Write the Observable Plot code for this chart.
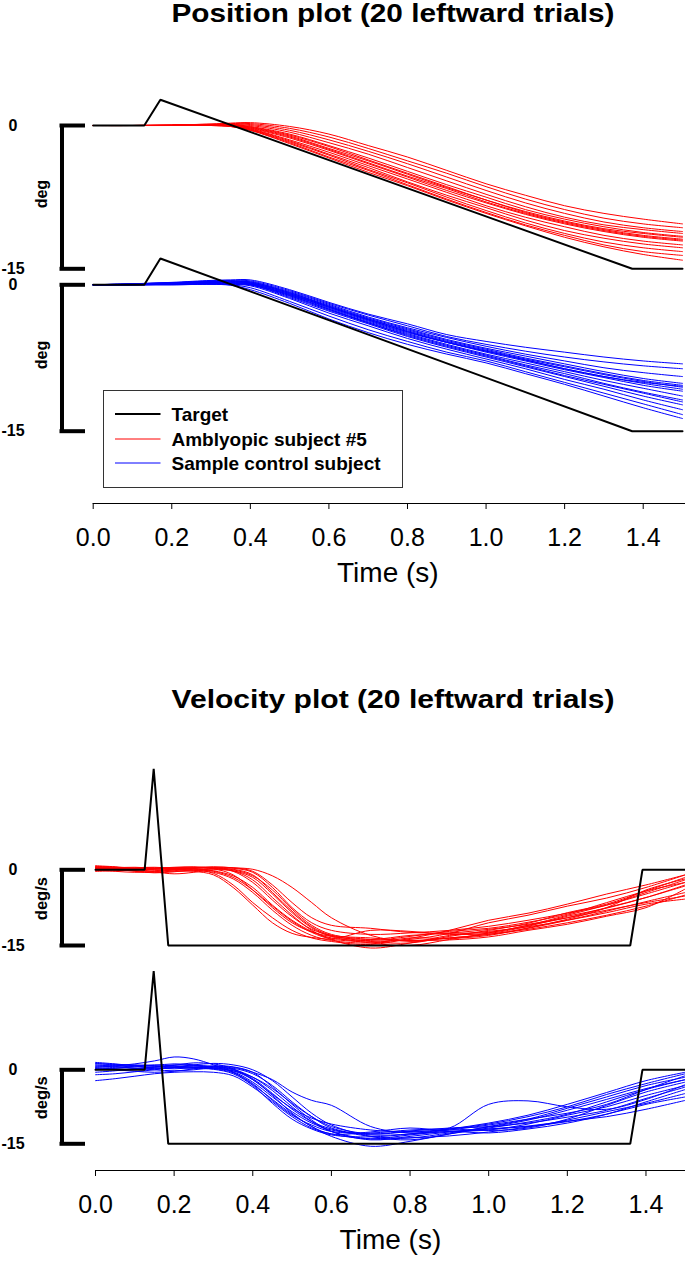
<!DOCTYPE html>
<html>
<head>
<meta charset="utf-8">
<script src="https://cdn.jsdelivr.net/npm/d3@7"></script>
<script src="https://cdn.jsdelivr.net/npm/@observablehq/plot@0.6"></script>
<style>
  body { margin: 0; background: #fff; }
  #page { position: relative; width: 685px; height: 1267px; overflow: hidden; background: #fff;
          font-family: "Liberation Sans", Arial, sans-serif; color: #000; }
  .panel { position: absolute; left: 0; }
  .title { position: absolute; white-space: nowrap; font-weight: bold; font-size: 25px; line-height: 1;
           transform-origin: center; }
  #legend { position: absolute; border: 1px solid #333; box-sizing: border-box; background: #fff; }
  .lrow { position: absolute; left: 0; white-space: nowrap; font-weight: bold; font-size: 19px; line-height: 1; }
</style>
</head>
<body>
<div id="page"></div>
<script>
// ---------------- data ----------------
const titles = ["Position plot (20 leftward trials)", "Velocity plot (20 leftward trials)"];
const yUnits = ["deg", "deg/s"];
const xLabel = "Time (s)";
const xTicks = [0, 0.2, 0.4, 0.6, 0.8, 1.0, 1.2, 1.4];
const yTicks = [0, -15];
const legendLabels = ["Target", "Amblyopic subject #5", "Sample control subject"];
const legendColors = ["black", "red", "blue"];

// target traces
const targetPosT = [0, 0.13, 0.171, 1.372, 1.5];
const targetPosV = [0, 0, 2.7, -15, -15];
const targetVelT = [0, 0.125, 0.148, 0.185, 1.36, 1.391, 1.5];
const targetVelV = [0, 0, 20, -15, -15, 0, 0];

// position traces (deg), sampled at tPos
const tPos = [0, 0.1, 0.2, 0.3, 0.35, 0.4, 0.5, 0.6, 0.7, 0.8, 0.9, 1.0, 1.1, 1.2, 1.3, 1.4, 1.5];
const posAmblyopic = [
  [0, 0, .05, .15, .25, .3, -.1, -.9, -2.1, -3.3, -4.7, -6.1, -7.3, -8.4, -9.2, -9.8, -10.3],
  [0, 0, .05, .15, .2, .2, -.3, -1.2, -2.4, -3.7, -5.0, -6.4, -7.7, -8.8, -9.7, -10.3, -10.7],
  [0, 0, .05, .1, .15, .1, -.5, -1.5, -2.7, -4.0, -5.4, -6.8, -8.1, -9.2, -10.1, -10.7, -11.1],
  [0, 0, .05, .1, .1, 0, -.7, -1.8, -3.0, -4.4, -5.8, -7.2, -8.5, -9.6, -10.4, -10.9, -11.3],
  [0, 0, 0, .1, .1, -.1, -.9, -2.1, -3.4, -4.8, -6.2, -7.5, -8.8, -9.8, -10.6, -11.2, -11.6],
  [0, 0, 0, .05, .05, -.2, -1.1, -2.4, -3.7, -5.1, -6.5, -7.8, -9.1, -10.1, -10.9, -11.5, -11.9],
  [0, 0, 0, .05, 0, -.3, -1.3, -2.6, -4.0, -5.4, -6.8, -8.1, -9.3, -10.3, -11.1, -11.7, -12.1],
  [0, 0, 0, .05, 0, -.35, -1.5, -2.8, -4.2, -5.6, -7.0, -8.4, -9.6, -10.6, -11.5, -12.1, -12.5],
  [0, 0, 0, 0, -.05, -.4, -1.6, -3.0, -4.4, -5.9, -7.3, -8.6, -9.9, -11.0, -11.8, -12.4, -12.8],
  [0, 0, 0, 0, -.1, -.45, -1.7, -3.1, -4.6, -6.0, -7.5, -8.9, -10.2, -11.3, -12.2, -12.8, -13.2],
  [0, 0, 0, 0, -.1, -.5, -1.8, -3.3, -4.7, -6.2, -7.7, -9.1, -10.4, -11.5, -12.5, -13.2, -13.6],
  [0, 0, 0, 0, -.1, -.5, -1.9, -3.4, -4.9, -6.3, -7.8, -9.2, -10.5, -11.7, -12.7, -13.5, -14.1],
  [0, 0, 0, .05, .05, -.15, -1.0, -2.2, -3.6, -5.0, -6.4, -7.8, -9.0, -10.0, -10.8, -11.3, -11.7],
  [0, 0, 0, .05, 0, -.25, -1.2, -2.5, -3.9, -5.3, -6.6, -8.0, -9.2, -10.2, -11.0, -11.6, -12.0]
];
const posControl = [
  [0, .1, .25, .45, .5, .5, -.5, -1.8, -3.0, -4.0, -5.1, -5.8, -6.4, -6.9, -7.4, -7.8, -8.1],
  [0, .05, .2, .4, .45, .4, -.6, -1.9, -3.1, -4.2, -5.3, -6.1, -6.8, -7.4, -7.9, -8.3, -8.6],
  [0, .1, .2, .35, .35, .3, -.7, -2.0, -3.3, -4.4, -5.4, -6.3, -7.1, -7.8, -8.5, -9.0, -9.4],
  [0, .05, .15, .3, .35, .3, -.8, -2.1, -3.4, -4.5, -5.6, -6.5, -7.3, -8.1, -8.9, -9.6, -10.1],
  [0, 0, .1, .25, .25, .2, -.9, -2.2, -3.5, -4.6, -5.7, -6.6, -7.5, -8.3, -9.1, -9.8, -10.3],
  [0, .05, .15, .3, .3, .2, -.8, -2.2, -3.5, -4.7, -5.8, -6.7, -7.6, -8.4, -9.2, -9.9, -10.5],
  [0, 0, .1, .2, .2, .1, -1.0, -2.4, -3.7, -4.9, -5.9, -6.8, -7.7, -8.6, -9.4, -10.1, -10.7],
  [0, .1, .2, .25, .2, .1, -1.0, -2.3, -3.6, -4.8, -5.9, -6.9, -7.8, -8.7, -9.5, -10.3, -10.9],
  [0, 0, .05, .15, .1, 0, -1.1, -2.5, -3.8, -5.0, -6.1, -7.1, -8.0, -8.9, -9.8, -10.6, -11.4],
  [0, .05, .15, .2, .2, .1, -1.1, -2.5, -3.9, -5.1, -6.2, -7.2, -8.2, -9.1, -10.1, -11.0, -11.8],
  [0, 0, .05, .1, .05, 0, -1.3, -2.7, -4.0, -5.3, -6.4, -7.4, -8.4, -9.4, -10.4, -11.4, -12.3],
  [0, 0, .05, .1, .05, -.1, -1.4, -2.9, -4.2, -5.5, -6.6, -7.6, -8.6, -9.7, -10.7, -11.8, -12.8],
  [0, 0, 0, .05, 0, -.3, -1.7, -3.2, -4.6, -5.8, -6.9, -7.8, -8.9, -10.0, -11.1, -12.2, -13.3],
  [0, 0, 0, .05, -.05, -.5, -1.9, -3.5, -4.9, -6.1, -7.1, -8.0, -9.1, -10.2, -11.4, -12.6, -13.7],
  [0, .1, .2, .35, .4, .2, -.9, -2.3, -3.6, -4.8, -5.9, -6.8, -7.7, -8.6, -9.4, -10.0, -10.4],
  [0, 0, .1, .2, .15, 0, -1.2, -2.6, -3.9, -5.2, -6.3, -7.3, -8.3, -9.3, -10.2, -11.1, -12.0]
];

// velocity traces (deg/s), sampled at tVel
const tVel = [0, .05, .1, .15, .2, .25, .3, .35, .4, .45, .5, .55, .6, .7, .8, .9, 1.0, 1.1, 1.2, 1.3, 1.4, 1.5];
const velAmblyopic = [
  [.8, .6, .3, .2, .4, .5, .4, .3, -.5, -3.5, -7.5, -10.5, -12.0, -12.8, -12.5, -12.0, -11.2, -10.0, -8.6, -7.0, -4.5, -2.0],
  [.5, .3, -.2, -.5, -.2, .3, .2, -1.0, -4.0, -7.5, -10.5, -12.3, -13.2, -13.8, -13.0, -12.6, -12.4, -11.0, -9.5, -7.5, -5.5, -3.0],
  [.2, .4, .5, .3, 0, -.3, -1.0, -3.5, -7.0, -10.5, -12.6, -13.4, -13.8, -14.3, -13.8, -12.6, -10.5, -9.0, -7.2, -5.6, -3.5, -1.0],
  [-.3, -.2, 0, .3, .5, .6, .3, -.3, -2.5, -6.0, -9.3, -11.8, -13.0, -13.5, -14.0, -13.5, -12.8, -11.6, -10.0, -8.2, -6.3, -4.5],
  [.6, .5, .2, -.4, -.8, -.5, 0, -.2, -1.5, -4.8, -8.5, -11.5, -13.2, -14.5, -15.0, -13.8, -12.5, -11.0, -9.0, -7.0, -4.8, -2.5],
  [0, .2, .4, .5, .3, 0, -.7, -3.0, -6.5, -9.5, -12.0, -13.5, -14.2, -14.8, -13.6, -12.0, -10.0, -8.6, -6.8, -4.8, -3.0, -1.0],
  [.4, .2, 0, .1, .3, .4, .5, .4, -.3, -3.0, -6.5, -9.5, -11.0, -11.6, -12.4, -12.5, -11.8, -10.8, -9.5, -8.0, -6.5, -5.2],
  [-.2, 0, .3, .4, .2, -.1, -.5, -1.8, -4.5, -8.0, -11.0, -13.0, -14.0, -14.5, -13.5, -13.6, -13.0, -11.5, -9.8, -7.5, -4.0, -1.8],
  [.3, .1, -.3, -.6, -.4, 0, .2, -.2, -2.0, -5.5, -9.0, -12.0, -13.8, -15.5, -14.5, -13.0, -12.2, -11.3, -10.0, -8.5, -6.8, -5.8],
  [.7, .5, .2, 0, .1, .2, -.2, -1.2, -3.5, -7.0, -10.0, -12.2, -13.5, -14.0, -13.2, -12.2, -11.6, -10.4, -8.8, -6.5, -4.2, -2.5],
  [.1, 0, -.2, -.3, 0, .3, .4, 0, -1.2, -4.0, -7.8, -11.0, -12.8, -13.8, -14.0, -13.9, -13.3, -12.0, -10.8, -9.2, -7.5, -3.8],
  [.5, .3, .1, .2, .4, .2, -.3, -1.5, -4.0, -7.2, -10.2, -12.4, -13.6, -12.0, -12.2, -12.8, -12.6, -11.2, -9.2, -7.6, -5.5, -3.2],
  [0, -.3, -.5, -.4, 0, .4, .6, .4, .1, -1.2, -3.5, -6.5, -9.5, -13.0, -14.2, -13.5, -12.8, -11.8, -10.5, -9.0, -7.2, -5.0],
  [.3, .4, .2, -.1, -.3, -.2, .2, .1, -1.0, -4.5, -8.2, -11.3, -13.0, -14.2, -14.5, -13.2, -12.0, -10.6, -8.5, -6.8, -4.2, -1.5]
];
const velControl = [
  [1.2, 1.0, .6, .5, .9, 1.4, 1.2, .2, -2.0, -5.0, -7.8, -9.8, -11.0, -12.2, -12.6, -12.0, -11.0, -9.5, -7.5, -5.0, -2.8, -.8],
  [-2.2, -1.8, -1.3, -.8, -.5, -.4, -.5, -1.2, -3.5, -6.5, -9.5, -11.8, -13.0, -14.0, -13.2, -12.5, -12.8, -12.0, -10.8, -9.0, -6.5, -4.0],
  [.5, .8, 1.2, 1.8, 2.6, 2.2, 1.0, -.5, -3.0, -6.0, -9.0, -11.5, -13.5, -15.5, -14.5, -13.0, -11.5, -10.0, -7.8, -5.5, -3.2, -1.5],
  [0, .3, .6, .9, 1.2, 1.0, .4, -.2, -1.5, -3.8, -6.8, -9.5, -11.5, -13.0, -12.5, -11.8, -7.0, -6.3, -7.5, -8.0, -6.0, -3.0],
  [.8, .6, .3, .2, .4, .6, .7, .5, -.5, -2.0, -4.5, -6.2, -7.2, -11.5, -12.8, -12.5, -12.0, -11.5, -10.5, -9.0, -7.0, -5.5],
  [1.5, 1.2, .8, .4, .2, .4, .3, -.4, -2.5, -5.5, -8.5, -10.8, -12.2, -13.0, -12.4, -11.8, -11.5, -10.2, -8.2, -6.0, -3.8, -2.0],
  [.3, .5, .8, 1.0, .8, .5, .2, -.6, -2.8, -6.2, -9.2, -11.2, -12.5, -12.8, -12.2, -12.0, -12.3, -11.8, -10.0, -7.2, -4.5, -2.5],
  [-.5, -.2, .2, .6, 1.0, .9, .6, 0, -1.8, -4.8, -8.0, -10.5, -12.0, -13.5, -13.8, -12.8, -11.6, -10.8, -9.6, -8.2, -5.8, -3.5],
  [1.0, .7, .3, 0, -.2, 0, .4, .3, -.8, -3.2, -6.5, -9.5, -11.8, -13.2, -13.0, -12.2, -11.2, -10.0, -8.8, -7.0, -4.0, -1.2],
  [.2, 0, -.3, -.5, -.3, .2, .8, .6, -.5, -3.5, -7.0, -10.2, -12.5, -14.2, -13.5, -12.6, -12.0, -11.4, -10.4, -9.5, -8.0, -6.2],
  [.7, .9, 1.0, .8, .5, .3, .1, -.8, -3.2, -6.8, -10.0, -12.0, -13.2, -13.6, -13.0, -12.0, -10.8, -9.2, -7.0, -4.6, -2.2, -.5],
  [-1.0, -.8, -.4, 0, .5, .8, .7, .1, -1.5, -4.2, -7.5, -10.5, -12.5, -14.0, -13.8, -13.4, -12.6, -11.6, -10.2, -8.5, -6.8, -4.8],
  [.4, .2, .1, .3, .6, 1.0, 1.3, 1.0, 0, -2.2, -5.5, -8.8, -11.2, -13.5, -14.2, -13.0, -11.8, -10.6, -9.0, -6.5, -4.0, -2.0],
  [1.3, 1.1, .9, .7, .6, .5, .4, -.2, -2.0, -5.2, -8.8, -11.5, -13.0, -12.6, -11.8, -12.4, -12.2, -11.0, -9.2, -7.5, -5.2, -3.2]
];

// ---------------- drawing ----------------
const FONT = '"Liberation Sans", Arial, sans-serif';
const W = 685;
const page = d3.select("#page");

const toRows = (t, trials) => trials.flatMap((vals, i) => vals.map((v, j) => ({t: t[j], v, trial: i})));
const toTarget = (t, v) => t.map((d, i) => ({t: d, v: v[i]}));

const posFig = {x0: 92.7, x1: 682, spineX: 61.5, tickL: 59.5, tickR: 85, labelX: 12.5, unitX: 41.5, unitDy: -3, unitSize: 16};
const velFig = {x0: 95, x1: 684.8, spineX: 61.5, tickL: 59.5, tickR: 85, labelX: 12.5, unitX: 41.5, unitDy: -9, unitSize: 16.5};

function panel({top, height, y0, y15, axisY, fig, trials, t, color, target, unit}) {
  const mb = axisY ? height - (axisY - top) : 0;
  const mid = (yTicks[0] + yTicks[1]) / 2;
  const marks = [
    Plot.line(toRows(t, trials), {x: "t", y: "v", z: "trial", stroke: color, strokeWidth: 1, curve: "catmull-rom"}),
    Plot.line(target, {x: "t", y: "v", stroke: "black", strokeWidth: 2, strokeLinejoin: "miter"}),
    Plot.ruleX([0], {y1: yTicks[1], y2: yTicks[0], dx: fig.spineX - fig.x0, stroke: "black", strokeWidth: 4}),
    Plot.ruleY(yTicks, {insetLeft: fig.tickL - fig.x0, insetRight: fig.x1 - fig.tickR, stroke: "black", strokeWidth: 4}),
    Plot.text(yTicks, {y: d => d, text: d => String(d), frameAnchor: "left", dx: fig.labelX - fig.x0,
      textAnchor: "middle", fontSize: 16, fontWeight: "bold", fill: "black"}),
    Plot.text([{label: unit, v: mid}], {y: "v", text: "label", frameAnchor: "left", dx: fig.unitX - fig.x0,
      dy: fig.unitDy, rotate: -90, textAnchor: "middle", fontSize: fig.unitSize, fontWeight: "bold", fill: "black"})
  ];
  if (axisY) {
    marks.push(
      Plot.frame({anchor: "bottom", insetRight: -(W - fig.x1), stroke: "black"}),
      Plot.axisX(xTicks, {anchor: "bottom", tickSize: 6, tickPadding: 19, tickFormat: d => d.toFixed(1),
        fontSize: 25, label: null}),
      Plot.text([xLabel], {frameAnchor: "bottom", dy: 78, fontSize: 28, fill: "black"})
    );
  }
  const svg = Plot.plot({
    width: W, height,
    marginLeft: fig.x0, marginRight: W - fig.x1, marginTop: 0, marginBottom: mb,
    x: {domain: [0, 1.5], axis: null},
    y: {domain: [yTicks[0], yTicks[1]], range: [y0 - top, y15 - top], axis: null},
    style: `background: transparent; overflow: visible; font-family: ${FONT}; color: black;`,
    marks
  });
  page.append("div").attr("class", "panel").style("top", top + "px").node().appendChild(svg);
}

// titles
function title(text, baseline) {
  const fs = 25, targetWidth = 443;
  const el = page.append("div").attr("class", "title").text(text)
    .style("left", "393px").style("top", (baseline - 0.8465 * fs) + "px");
  const w = el.node().getBoundingClientRect().width;
  el.style("transform", `translateX(-50%) scaleX(${targetWidth / w})`);
}

// position figure
title(titles[0], 22);
panel({top: 40, height: 245, y0: 125, y15: 268.3, fig: posFig, trials: posAmblyopic, t: tPos, color: "red",
  target: toTarget(targetPosT, targetPosV), unit: yUnits[0]});
panel({top: 250, height: 360, y0: 284.3, y15: 430.7, axisY: 503, fig: posFig, trials: posControl, t: tPos, color: "blue",
  target: toTarget(targetPosT, targetPosV), unit: yUnits[0]});

// legend
const legend = page.append("div").attr("id", "legend")
  .style("left", "102.5px").style("top", "389.5px").style("width", "300.5px").style("height", "98px");
const rowY = [23.5, 48.5, 72];
legendLabels.forEach((lab, i) => {
  const row = legend.append("div").attr("class", "lrow").style("top", (rowY[i] - 10) + "px").style("height", "20px");
  const s = row.append("svg").attr("width", 60).attr("height", 20).style("position", "absolute").style("left", "0px").style("top", "0px");
  s.append("line").attr("x1", 11).attr("x2", 56.5).attr("y1", 10).attr("y2", 10)
    .attr("stroke", legendColors[i]).attr("stroke-width", i === 0 ? 2 : 1);
  row.append("span").text(lab).style("position", "absolute").style("left", "68px").style("top", "1px");
});

// velocity figure
title(titles[1], 708);
panel({top: 740, height: 230, y0: 869.3, y15: 945, fig: velFig, trials: velAmblyopic, t: tVel, color: "red",
  target: toTarget(targetVelT, targetVelV), unit: yUnits[1]});
panel({top: 950, height: 317, y0: 1069.3, y15: 1143.3, axisY: 1170, fig: velFig, trials: velControl, t: tVel, color: "blue",
  target: toTarget(targetVelT, targetVelV), unit: yUnits[1]});
</script>
</body>
</html>
